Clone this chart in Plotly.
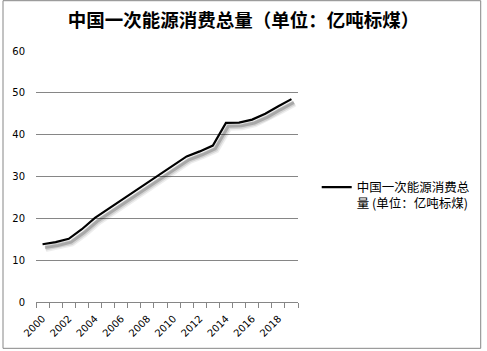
import plotly.graph_objects as go

years = [2000, 2001, 2002, 2003, 2004, 2005, 2006, 2007, 2008, 2009,
         2010, 2011, 2012, 2013, 2014, 2015, 2016, 2017, 2018, 2019]
values = [13.8, 14.3, 15.1, 17.4, 20.1, 22.2, 24.3, 26.4, 28.5, 30.5,
          32.5, 34.8, 36.0, 37.4, 42.8, 42.9, 43.6, 45.0, 46.8, 48.5]
series_name = "中国一次能源消费总<br>量 (单位：亿吨标煤)"
title_text = "中国一次能源消费总量（单位：亿吨标煤）"
tick_labels = [str(y) if (y - 2000) % 2 == 0 else "" for y in years]

W, H = 487, 351
ML, MR, MT, MB = 34, 187, 51, 48
PW, PH = W - ML - MR, H - MT - MB

idx = list(range(len(years)))
fig = go.Figure()

# soft drop shadow derived from the series
for width, alpha, dx, dy in [(7, 0.07, 0.24, -1.0), (5, 0.11, 0.21, -0.9), (3, 0.2, 0.18, -0.8)]:
    fig.add_trace(go.Scatter(
        x=[i + dx for i in idx], y=[v + dy for v in values], mode="lines",
        line=dict(color=f"rgba(0,0,0,{alpha})", width=width),
        showlegend=False, hoverinfo="skip"))

fig.add_trace(go.Scatter(
    x=idx, y=values, mode="lines", name=series_name,
    line=dict(color="black", width=2.2)))

fig.update_layout(
    width=W, height=H,
    margin=dict(l=ML, r=MR, t=MT, b=MB),
    paper_bgcolor="white", plot_bgcolor="white",
    font=dict(family="DejaVu Sans, Noto Sans CJK SC", size=10, color="black"),
    title=dict(text=title_text, x=0.5, xref="container", y=1 - 21 / H, yref="container",
               yanchor="middle", xanchor="center",
               font=dict(family="Noto Sans CJK SC", size=18.5, color="black", weight="bold")),
    showlegend=True,
    legend=dict(x=(319 - ML) / PW, y=(PH - (173 - MT)) / PH, xanchor="left",
                yanchor="top", valign="top", itemwidth=30,
                font=dict(family="Noto Sans CJK SC", size=12.5, color="black"),
                bgcolor="rgba(0,0,0,0)"),
)

fig.update_xaxes(
    range=[-0.5, len(years) - 0.5], tickmode="array", tickvals=idx, ticktext=tick_labels,
    tickangle=-45, ticks="", showgrid=False, zeroline=False,
    showline=True, linecolor="#868686", linewidth=1,
    minor=dict(ticks="outside", ticklen=5, tick0=-0.5, dtick=1, tickcolor="#868686", showgrid=False),
    tickfont=dict(size=10), ticklabelstandoff=6,
)
fig.update_yaxes(
    range=[0, 60], tickvals=[0, 10, 20, 30, 40, 50, 60], showgrid=True,
    gridcolor="#868686", gridwidth=1, zeroline=False, showline=False, ticks="",
    tickfont=dict(size=10), ticklabelstandoff=10,
)

# chart area border
fig.add_shape(type="rect", xref="paper", yref="paper",
              x0=(-ML + 0.5) / PW, x1=(W - ML - 1.5) / PW,
              y0=(-MB + 1.5) / PH, y1=(PH + MT - 0.5) / PH,
              line=dict(color="#868686", width=1), fillcolor="rgba(0,0,0,0)", layer="below")

fig.write_html("out.html")
